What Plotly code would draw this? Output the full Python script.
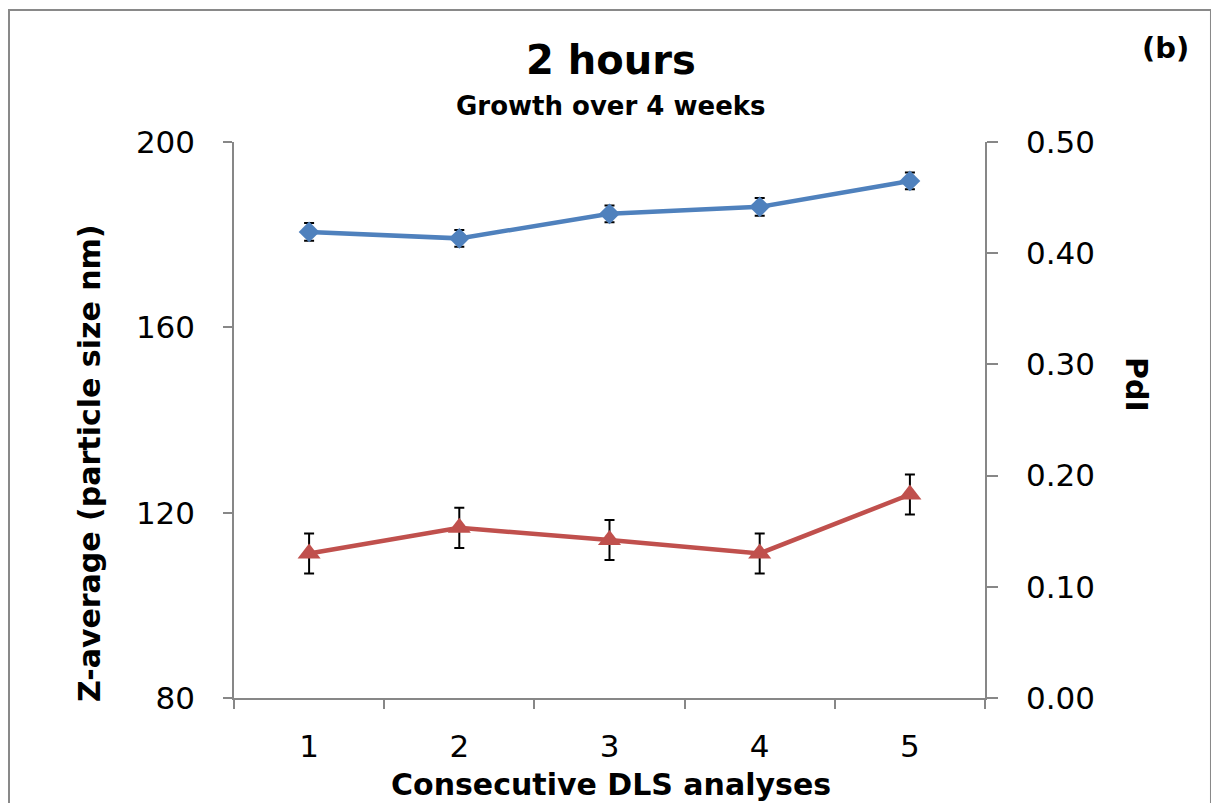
import plotly.graph_objs as go

# Data
analyses = ['1', '2', '3', '4', '5']
z_average = [180.6, 179.2, 184.5, 186.0, 191.6]
z_average_err = [1.9, 1.8, 1.8, 1.9, 1.8]
pdi = [0.130, 0.153, 0.142, 0.130, 0.183]
pdi_err = [0.018, 0.018, 0.018, 0.018, 0.018]

left_ticks = [80, 120, 160, 200]
right_ticks = [0.0, 0.1, 0.2, 0.3, 0.4, 0.5]

font_name = 'DejaVu Sans'
axis_grey = '#878787'

fig = go.Figure()

# Z-average on the left axis (blue diamonds)
fig.add_trace(go.Scatter(
    x=analyses, y=z_average,
    mode='lines+markers',
    line=dict(color='#4F81BD', width=4.5),
    marker=dict(symbol='diamond', size=16, color='#4F81BD'),
    error_y=dict(type='data', array=z_average_err, color='black', thickness=2, width=5),
    name='Z-average'
))

# PdI on the right axis (red triangles)
fig.add_trace(go.Scatter(
    x=analyses, y=pdi,
    mode='lines+markers',
    line=dict(color='#C0504D', width=4.5),
    marker=dict(symbol='triangle-up', size=20, color='#C0504D'),
    error_y=dict(type='data', array=pdi_err, color='black', thickness=2, width=5),
    yaxis='y2',
    name='PdI'
))

# the page adds an 8px body margin, so the plot area is placed 8px up/left
fig.update_layout(
    width=1219, height=803,
    margin=dict(l=226, r=242, t=134, b=113),
    paper_bgcolor='white', plot_bgcolor='white',
    showlegend=False,
    font=dict(family=font_name, color='black'),
    xaxis=dict(
        type='category', tickson='boundaries', range=[-0.5, 4.5],
        ticks='outside', ticklen=9, tickcolor=axis_grey, tickwidth=1.5,
        showline=True, linecolor=axis_grey, linewidth=1.5,
        showgrid=False, zeroline=False,
        tickfont=dict(size=31), ticklabelstandoff=20
    ),
    yaxis=dict(
        range=[80, 200], tickvals=left_ticks,
        ticks='outside', ticklen=9, tickcolor=axis_grey, tickwidth=1.5,
        showline=True, linecolor=axis_grey, linewidth=1.5,
        showgrid=False, zeroline=False,
        tickfont=dict(size=31), ticklabelstandoff=22
    ),
    yaxis2=dict(
        range=[0, 0.5], tickvals=right_ticks, tickformat='.2f',
        overlaying='y', side='right',
        ticks='outside', ticklen=11, tickcolor=axis_grey, tickwidth=1.5,
        showline=True, linecolor=axis_grey, linewidth=1.5,
        showgrid=False, zeroline=False,
        tickfont=dict(size=31), ticklabelstandoff=22
    )
)

# Titles and labels placed as annotations (paper coords relative to the plot area)
def label(text, x, y, size, angle=0):
    fig.add_annotation(
        text=text, x=x, y=y, xref='paper', yref='paper',
        xanchor='center', yanchor='middle', showarrow=False,
        textangle=angle, font=dict(family=font_name, size=size, color='black')
    )

label('<b>2 hours</b>', 0.502, 1.1475, 40)
label('<b>Growth over 4 weeks</b>', 0.502, 1.0647, 26)
label('<b>(b)</b>', 1.2397, 1.169, 29)
label('<b>Consecutive DLS analyses</b>', 0.502, -0.1547, 30)
label('<b>Z-average (particle size nm)</b>', -0.1917, 0.4227, 30, angle=-90)
label('<b>PdI</b>', 1.201, 0.563, 30, angle=90)

# Chart outer border
fig.add_shape(
    type='rect', xref='paper', yref='paper',
    x0=-0.2996, x1=1.3009, y0=-0.22, y1=1.2374,
    line=dict(color='#898989', width=2)
)

fig.write_html('out.html')
